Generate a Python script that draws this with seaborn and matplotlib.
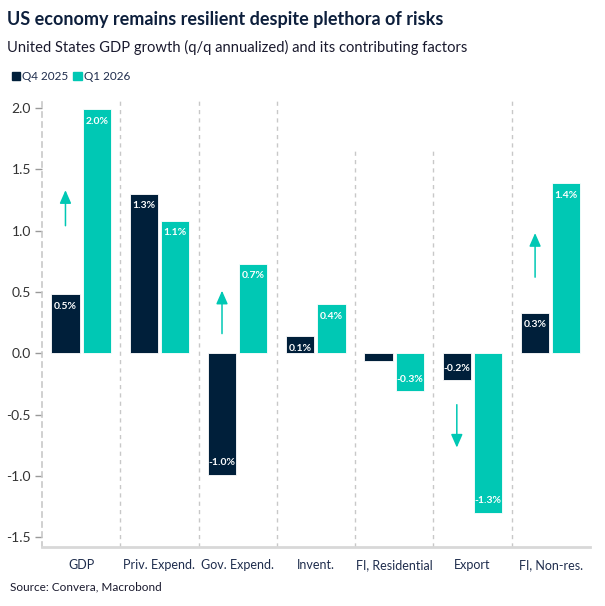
import matplotlib
matplotlib.use('Agg')
import matplotlib.pyplot as plt
import pandas as pd
import seaborn as sns

# chart data
categories = ['GDP', 'Priv. Expend.', 'Gov. Expend.', 'Invent.',
              'FI, Residential', 'Export', 'FI, Non-res.']
q4_2025 = [0.48, 1.30, -0.99, 0.14, -0.06, -0.22, 0.33]
q1_2026 = [1.99, 1.08, 0.73, 0.40, -0.31, -1.30, 1.385]
q4_labels = ['0.5%', '1.3%', '-1.0%', '0.1%', '-0.1%', '-0.2%', '0.3%']
q1_labels = ['2.0%', '1.1%', '0.7%', '0.4%', '-0.3%', '-1.3%', '1.4%']
series = ['Q4 2025', 'Q1 2026']

# arrows: (category, start, end)
arrows = [('GDP', 1.04, 1.33), ('Gov. Expend.', 0.16, 0.51),
          ('Export', -0.42, -0.77), ('FI, Non-res.', 0.62, 0.98)]

dark = '#001f3a'
teal = '#00c8b4'
grid_color = '#c8c8c8'
text_color = '#1f2d4d'

if __name__ == '__main__':
    sns.set_style('white')
    plt.rcParams['font.family'] = ['Lato', 'DejaVu Sans']

    df = pd.DataFrame({
        'category': categories * 2,
        'value': q4_2025 + q1_2026,
        'series': [series[0]] * len(categories) + [series[1]] * len(categories),
    })

    fig = plt.figure(figsize=(6.05, 6.06), dpi=100)
    ax = fig.add_axes([0.0694, 0.0975, 0.9056, 0.7425])

    sns.barplot(data=df, x='category', y='value', hue='series',
                hue_order=series, order=categories, saturation=1,
                palette=[dark, teal], width=0.8, gap=0.1,
                edgecolor='white', linewidth=0.6, ax=ax)

    # value labels inside bars
    for cont, labels in zip(ax.containers, [q4_labels, q1_labels]):
        ax.bar_label(cont, labels=labels, padding=-12, color='white',
                     fontsize=7.5, fontweight='bold')

    # category dividers
    tops = [2.09, 2.09, 2.09, 1.68, 1.68, 2.09]
    for i, top in enumerate(tops):
        ax.plot([i + 0.5, i + 0.5], [-1.58, top], color=grid_color,
                linewidth=1, linestyle=(0, (3, 3)), zorder=0)

    # arrows
    for cat, y0, y1 in arrows:
        x = categories.index(cat) - 0.2
        ax.annotate('', xy=(x, y1), xytext=(x, y0),
                    arrowprops=dict(arrowstyle='-|>,head_length=0.8,head_width=0.35',
                                    color=teal, linewidth=1.1,
                                    shrinkA=0, shrinkB=0))

    ax.set_xlim(-0.5, 6.5)
    ax.set_ylim(-1.58, 2.09)
    ax.set_xlabel('')
    ax.set_ylabel('')
    ax.get_legend().remove()

    # x ticks: dividers as major ticks, labels on minor ticks
    ax.set_xticks([i + 0.5 for i in range(-1, 6)])
    ax.set_xticklabels([])
    ax.set_xticks(range(len(categories)), minor=True)
    ax.set_xticklabels(categories, minor=True)
    ax.tick_params(axis='x', which='major', length=5, width=1,
                   color='#444444', direction='out')
    ax.tick_params(axis='x', which='minor', length=0, pad=9,
                   labelsize=9, labelcolor=text_color)
    ax.set_yticks([-1.5, -1.0, -0.5, 0.0, 0.5, 1.0, 1.5, 2.0])
    ax.set_yticklabels([f'{v:.1f}' for v in ax.get_yticks()])
    ax.tick_params(axis='y', length=5, width=1, color='#999999',
                   labelsize=10, labelcolor='#333333', left=True, pad=3)

    for s in ['top', 'right']:
        ax.spines[s].set_visible(False)
    ax.spines['bottom'].set_color('#d8d8d8')
    ax.spines['bottom'].set_linewidth(2)
    ax.spines['left'].set_color(grid_color)
    ax.spines['left'].set_linewidth(1.2)
    ax.spines['left'].set_linestyle((0, (3, 3)))

    # titles
    fig.text(0.011, 0.968, 'US economy remains resilient despite plethora of risks',
             fontsize=13, fontweight='bold', color='#0d1f3c', va='center')
    fig.text(0.011, 0.922,
             'United States GDP growth (q/q annualized) and its contributing factors',
             fontsize=10.6, color='#1a1a2e', va='center')

    # legend
    handles = [plt.Rectangle((0, 0), 1, 1, color=c) for c in [dark, teal]]
    fig.legend(handles, series, loc='center left', bbox_to_anchor=(0.002, 0.873),
               ncol=2, frameon=False, fontsize=8.5, handlelength=0.7,
               handleheight=0.7, handletextpad=0.2, columnspacing=0.4,
               labelcolor=text_color)

    fig.text(0.016, 0.031, 'Source: Convera, Macrobond', fontsize=8.5,
             color='#1a1a2e', va='center')

    plt.savefig('out.png', dpi=100, facecolor='white')
